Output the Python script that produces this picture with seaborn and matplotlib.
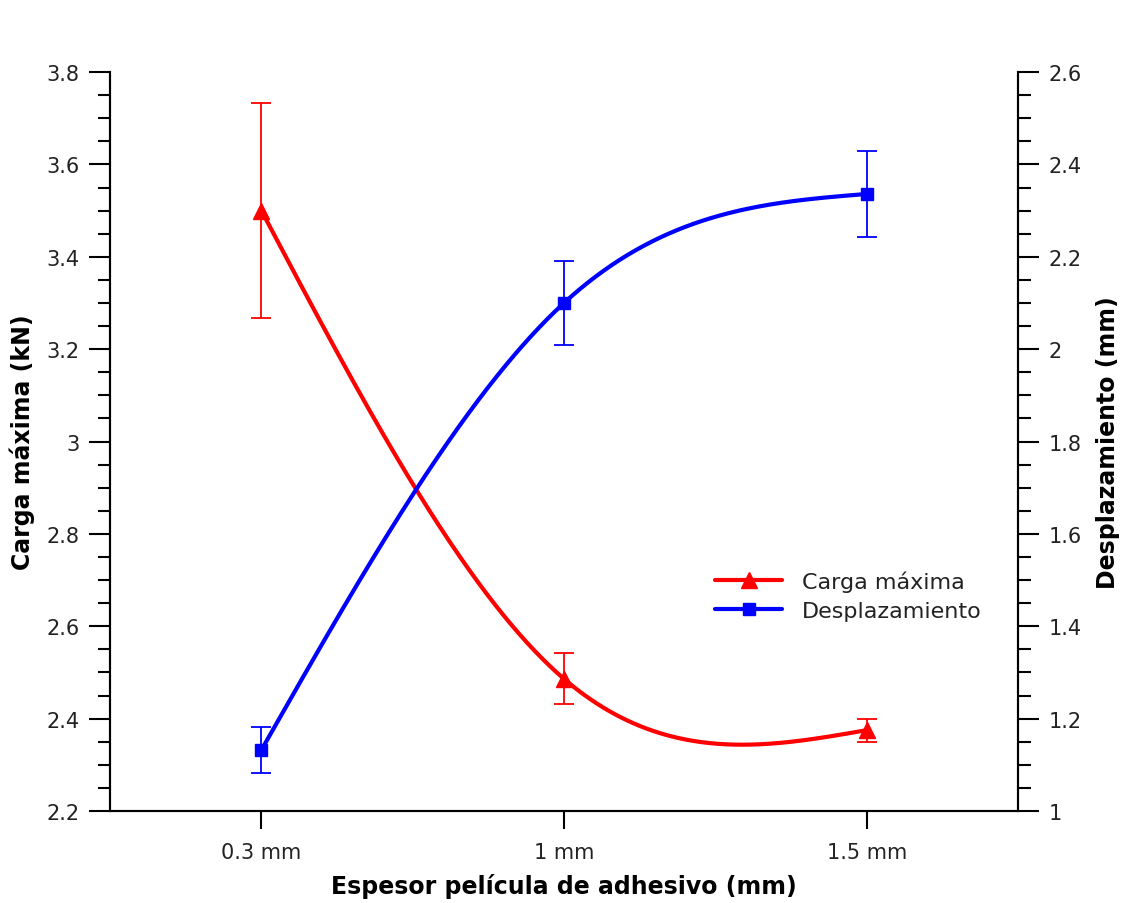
import numpy as np
import seaborn as sns
import matplotlib.pyplot as plt
from matplotlib.lines import Line2D
from matplotlib.ticker import MultipleLocator, FuncFormatter

# data
espesor = ["0.3 mm", "1 mm", "1.5 mm"]
carga = [3.50, 2.486, 2.375]
carga_err = [0.232, 0.055, 0.025]
desplaz = [1.132, 2.10, 2.336]
desplaz_err = [0.05, 0.09, 0.093]


def smooth(y, n=300):
    # natural cubic spline through equally spaced points (drawing style only)
    y = np.asarray(y, dtype=float)
    k = len(y)
    A = np.zeros((k, k))
    b = np.zeros(k)
    A[0, 0] = A[-1, -1] = 1
    for i in range(1, k - 1):
        A[i, i - 1], A[i, i], A[i, i + 1] = 1, 4, 1
        b[i] = 6 * (y[i + 1] - 2 * y[i] + y[i - 1])
    M = np.linalg.solve(A, b)
    xs = np.linspace(0, k - 1, n)
    seg = np.minimum(np.floor(xs).astype(int), k - 2)
    t = xs - seg
    a = 1 - t
    ys = (M[seg] * a ** 3 / 6 + M[seg + 1] * t ** 3 / 6
          + (y[seg] - M[seg] / 6) * a + (y[seg + 1] - M[seg + 1] / 6) * t)
    return xs, ys


sns.set_style("ticks")
plt.rcParams['font.family'] = ['DejaVu Sans']
plt.rcParams['text.color'] = '#222222'

fig = plt.figure(figsize=(11.23, 9.04), dpi=100)
ax = fig.add_axes([0.098, 0.1018, 0.8085, 0.8174])
ax2 = ax.twinx()

pos = np.arange(len(espesor))

xs, ys = smooth(carga)
sns.lineplot(x=xs, y=ys, ax=ax, color='#ff0000', lw=3, sort=False, estimator=None)
ax.errorbar(pos, carga, yerr=carga_err, fmt='^', color='#ff0000', ms=12,
            capsize=7, elinewidth=1.3, capthick=1.3)

xs, ys = smooth(desplaz)
sns.lineplot(x=xs, y=ys, ax=ax2, color='#0000ff', lw=3, sort=False, estimator=None)
ax2.errorbar(pos, desplaz, yerr=desplaz_err, fmt='s', color='#0000ff', ms=9,
             capsize=7, elinewidth=1.3, capthick=1.3)

ax.set_xlim(-0.5, 2.5)
ax.set_ylim(2.2, 3.8)
ax2.set_ylim(1.0, 2.6)
ax.set_xticks(pos)
ax.set_xticklabels(espesor)

fmt = FuncFormatter(lambda v, p: f"{round(v, 3):g}")
for a in (ax, ax2):
    a.yaxis.set_major_locator(MultipleLocator(0.2))
    a.yaxis.set_minor_locator(MultipleLocator(0.05))
    a.yaxis.set_major_formatter(fmt)
    a.tick_params(axis='y', which='major', length=15, width=1.5, labelsize=15,
                  colors='black', labelcolor='#222222', pad=7)
    a.tick_params(axis='y', which='minor', length=9, width=1.5, colors='black')
    a.spines['top'].set_visible(False)
    for s in ('left', 'right', 'bottom'):
        a.spines[s].set_linewidth(1.5)
        a.spines[s].set_color('black')
ax.tick_params(axis='x', length=13, width=1.5, labelsize=15, colors='black',
               labelcolor='#222222', pad=9)

ax.set_xlabel("Espesor película de adhesivo (mm)", fontsize=17, fontweight='bold',
              labelpad=8, color='black')
ax.set_ylabel("Carga máxima (kN)", fontsize=17, fontweight='bold', labelpad=8,
              color='black')
ax2.set_ylabel("Desplazamiento (mm)", fontsize=17, fontweight='bold', labelpad=10,
               color='black')

handles = [
    Line2D([0], [0], color='#ff0000', lw=3, marker='^', ms=12),
    Line2D([0], [0], color='#0000ff', lw=3, marker='s', ms=9),
]
ax2.legend(handles, ["Carga máxima", "Desplazamiento"], loc='center left',
           bbox_to_anchor=(0.637, 0.34), bbox_transform=fig.transFigure,
           frameon=False, fontsize=16, handlelength=3.0, handletextpad=0.9,
           borderpad=0, borderaxespad=0, labelspacing=0.4)

fig.savefig("out.png", dpi=100)
